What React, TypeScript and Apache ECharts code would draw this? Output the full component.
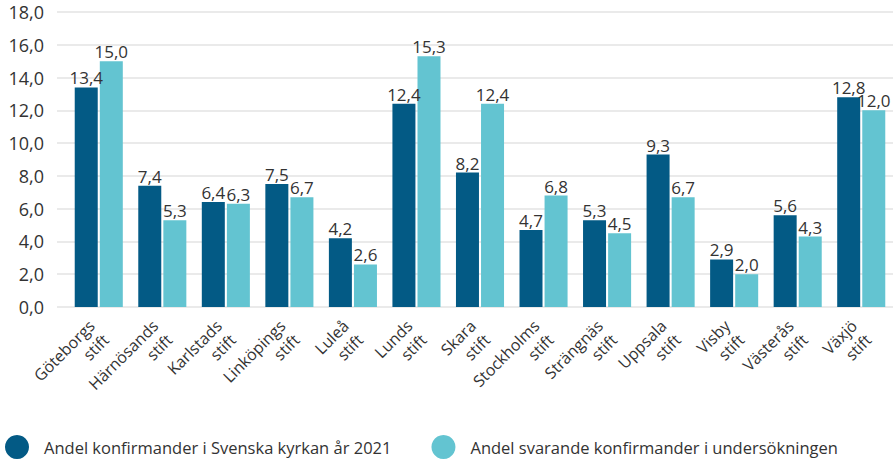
import React, { useEffect, useRef } from "react";
import * as echarts from "echarts";

const categories = [
  "Göteborgs\nstift", "Härnösands\nstift", "Karlstads\nstift", "Linköpings\nstift",
  "Luleå\nstift", "Lunds\nstift", "Skara\nstift", "Stockholms\nstift",
  "Strängnäs\nstift", "Uppsala\nstift", "Visby\nstift", "Västerås\nstift", "Växjö\nstift",
];
const series2021 = [13.4, 7.4, 6.4, 7.5, 4.2, 12.4, 8.2, 4.7, 5.3, 9.3, 2.9, 5.6, 12.8];
const seriesSurvey = [15.0, 5.3, 6.3, 6.7, 2.6, 15.3, 12.4, 6.8, 4.5, 6.7, 2.0, 4.3, 12.0];
const seriesNames = [
  "Andel konfirmander i Svenska kyrkan år 2021",
  "Andel svarande konfirmander i undersökningen",
];

const fmt = (v: number) => v.toFixed(1).replace(".", ",");
const FONT = "'Open Sans', 'Noto Sans', sans-serif";
const TEXT = "#333333";

export default function App() {
  const ref = useRef<HTMLDivElement>(null);
  useEffect(() => {
    document.body.style.margin = "0";
    if (!ref.current) return;
    const chart = echarts.init(ref.current, null, { renderer: "svg" });
    const label = {
      show: true,
      position: "top",
      distance: 1,
      color: TEXT,
      fontSize: 17,
      fontFamily: FONT,
      formatter: (p: any) => fmt(p.value),
    };
    chart.setOption({
      animation: false,
      textStyle: { fontFamily: FONT },
      grid: [
        { left: 57, right: 0, top: 12, bottom: 153 },
        { left: 67, width: 831, top: 12, bottom: 153 },
      ],
      xAxis: [
        { type: "category", gridIndex: 0, data: categories, show: false },
        {
          type: "category",
          gridIndex: 1,
          data: categories,
          axisLine: { show: false },
          axisTick: { show: false },
          axisLabel: {
            interval: 0,
            rotate: 45,
            margin: 23,
            color: TEXT,
            fontSize: 16,
            fontFamily: FONT,
            lineHeight: 20,
          },
        },
      ],
      yAxis: [
        {
          type: "value",
          gridIndex: 0,
          min: 0,
          max: 18,
          interval: 2,
          axisLine: { show: false },
          axisTick: { show: false },
          axisLabel: {
            formatter: (v: number) => fmt(v),
            color: TEXT,
            fontSize: 18,
            margin: 13,
            fontFamily: FONT,
          },
          splitLine: { lineStyle: { color: "#e3e3e3", width: 1.5 } },
        },
        { type: "value", gridIndex: 1, min: 0, max: 18, interval: 2, show: false, splitLine: { show: false } },
      ],
      legend: {
        left: 5,
        bottom: 1,
        padding: 0,
        icon: "circle",
        itemWidth: 24,
        itemHeight: 24,
        itemGap: 40,
        textStyle: { color: TEXT, fontSize: 16.5, fontFamily: FONT, padding: [0, 0, 0, 10] },
        data: seriesNames,
      },
      series: [
        {
          name: seriesNames[0],
          type: "bar",
          xAxisIndex: 1,
          yAxisIndex: 1,
          data: series2021,
          barWidth: 23,
          barGap: "9%",
          itemStyle: { color: "#035a85" },
          label,
        },
        {
          name: seriesNames[1],
          type: "bar",
          xAxisIndex: 1,
          yAxisIndex: 1,
          data: seriesSurvey,
          barWidth: 23,
          itemStyle: { color: "#63c4d1" },
          label,
        },
      ],
    });
    return () => chart.dispose();
  }, []);
  return <div ref={ref} style={{ width: 893, height: 460 }} />;
}
